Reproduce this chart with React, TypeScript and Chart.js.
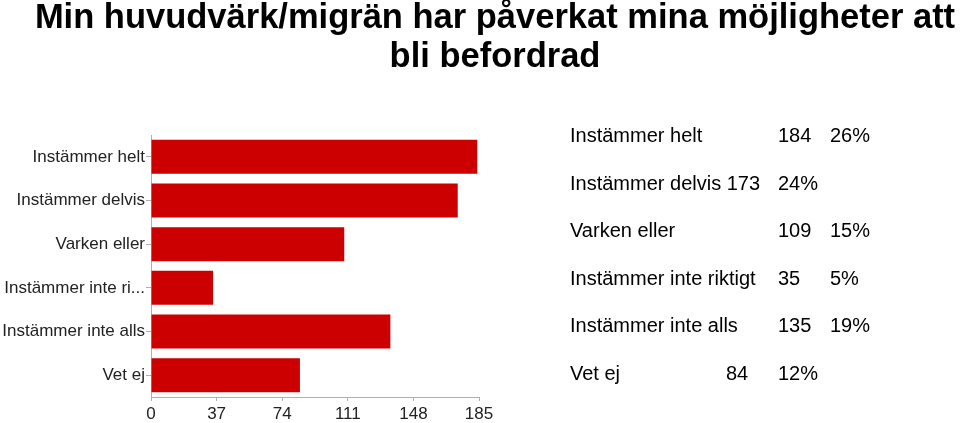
import React, { useEffect, useRef } from "react";
import { Chart, registerables } from "chart.js";

Chart.register(...registerables);

const titleLines = ["Min huvudvärk/migrän har påverkat mina möjligheter att", "bli befordrad"];
const categories = [
  "Instämmer helt",
  "Instämmer delvis",
  "Varken eller",
  "Instämmer inte riktigt",
  "Instämmer inte alls",
  "Vet ej",
];
const counts = [184, 173, 109, 35, 135, 84];
const percents = ["26%", "24%", "15%", "5%", "19%", "12%"];
const xTickMin = 0;
const xTickMax = 185;
const xTickStep = 37;

// table layout (positions only)
const countX: (number | null)[] = [778, null, 778, 778, 778, 726];
const pctX = [830, 778, 830, 830, 830, 778];

const FONT = "'Liberation Sans', Arial, Helvetica, sans-serif";

export default function App() {
  const ref = useRef<HTMLCanvasElement>(null);

  useEffect(() => {
    document.body.style.margin = "0";
    const canvas = ref.current!;
    const chart = new Chart(canvas, {
      type: "bar",
      data: {
        labels: categories,
        datasets: [
          {
            data: counts,
            backgroundColor: "#cc0000",
            borderWidth: 0,
            barPercentage: 0.78,
            categoryPercentage: 1,
          },
        ],
      },
      options: {
        indexAxis: "y",
        responsive: false,
        animation: false,
        devicePixelRatio: 1,
        layout: { padding: { left: 0, top: 135, right: 481, bottom: 0 } },
        plugins: { legend: { display: false }, title: { display: false }, tooltip: { enabled: false } },
        scales: {
          y: {
            afterFit: (s: any) => {
              s.width = 151;
            },
            grid: {
              display: true,
              drawOnChartArea: false,
              drawTicks: true,
              tickLength: 5,
              offset: false,
              color: "#b0b0b0",
            },
            border: { display: true, color: "#b0b0b0", width: 1 },
            ticks: {
              padding: 1,
              color: "#222",
              font: { family: FONT, size: 17 },
              callback: function (this: any, v: any) {
                const l = this.getLabelForValue(v) as string;
                return l.length > 20 ? l.slice(0, 17) + "..." : l;
              },
            },
          },
          x: {
            min: xTickMin,
            max: xTickMax,
            afterFit: (s: any) => {
              s.height = 26;
            },
            grid: {
              display: true,
              drawOnChartArea: false,
              drawTicks: true,
              tickLength: 4,
              color: "#b0b0b0",
            },
            border: { display: true, color: "#b0b0b0", width: 1 },
            ticks: {
              stepSize: xTickStep,
              padding: 3,
              maxRotation: 0,
              autoSkip: false,
              color: "#222",
              font: { family: FONT, size: 17 },
            },
          },
        },
      },
    });
    return () => chart.destroy();
  }, []);

  return (
    <div style={{ position: "relative", width: 960, height: 423, overflow: "hidden", background: "#fff" }}>
      <canvas ref={ref} width={960} height={423} style={{ position: "absolute", left: 0, top: 0, width: 960, height: 423 }} />
      {titleLines.map((t, i) => (
        <div
          key={i}
          style={{
            position: "absolute",
            left: 0,
            width: 990,
            top: -4 + i * 39,
            textAlign: "center",
            fontFamily: FONT,
            fontWeight: "bold",
            fontSize: 34.5,
            lineHeight: "40px",
            color: "#000",
            whiteSpace: "nowrap",
          }}
        >
          {t}
        </div>
      ))}
      {categories.map((c, i) => {
        const top = 123 + i * 47.6;
        const base = { position: "absolute" as const, top, fontFamily: FONT, fontSize: 20, lineHeight: "24px", color: "#000", whiteSpace: "nowrap" as const };
        return (
          <React.Fragment key={c}>
            <div style={{ ...base, left: 570 }}>{countX[i] === null ? `${c} ${counts[i]}` : c}</div>
            {countX[i] !== null && <div style={{ ...base, left: countX[i] as number }}>{counts[i]}</div>}
            <div style={{ ...base, left: pctX[i] }}>{percents[i]}</div>
          </React.Fragment>
        );
      })}
    </div>
  );
}
